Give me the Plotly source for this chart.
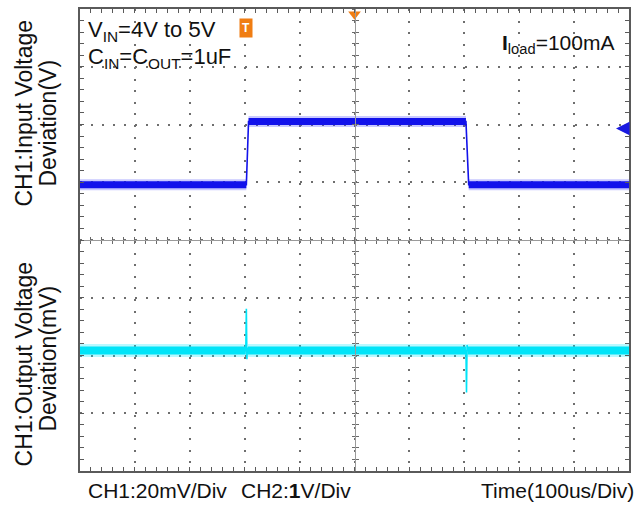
import plotly.graph_objects as go

# ---- scope settings -------------------------------------------------------
TIME_PER_DIV_US = 100
N_XDIV = 10
N_YDIV = 8

# CH2: input voltage step (V)
vin_t_us = [0, 303, 307, 703, 708, 1000]
vin_v = [4.0, 4.0, 5.0, 5.0, 4.0, 4.0]

# CH1: output voltage deviation (mV) with the line-transient spikes
vout_t_us = [0, 302, 303, 304, 305, 306, 703, 704, 705, 706, 1000]
vout_mv = [0, 0, 14.5, -3.0, 1.0, 0, 0, -14.5, 2.0, 0, 0]

# vertical windows of the two channels on the screen
ch2_range_v = [-0.53, 6.78]
ch1_range_mv = [-41.7, 118.3]

# ---- canvas geometry ------------------------------------------------------
W, H = 642, 506
PX_L, PX_R, PX_T, PX_B = 80, 629, 7, 471

def px_x(p):
    return (p - PX_L) / (PX_R - PX_L)

def px_y(p):
    return (PX_B - p) / (PX_B - PX_T)

FONT = "Liberation Sans, Arial, sans-serif"
FRAME = "#5a5a5a"
GRID = "#6e6e6e"

BLUE_CORE = "rgb(18,18,235)"
BLUE_FUZZ = "rgba(40,40,255,0.25)"
CYAN_CORE = "rgb(0,228,248)"
CYAN_FUZZ = "rgba(0,232,255,0.28)"


def flat_segments(xs, ys):
    """Split a trace into its flat (steady-state) stretches, separated by gaps."""
    sx, sy = [], []
    for i in range(len(xs) - 1):
        if ys[i] == ys[i + 1]:
            sx += [xs[i], xs[i + 1], None]
            sy += [ys[i], ys[i + 1], None]
    return sx, sy


fig = go.Figure()

# noise band + sharp trace for each channel
for xs, ys, yax, fuzz, core, fw, cw in [
    (vin_t_us, vin_v, "y2", BLUE_FUZZ, BLUE_CORE, 11, 7),
    (vout_t_us, vout_mv, "y3", CYAN_FUZZ, CYAN_CORE, 13, 8),
]:
    bx, by = flat_segments(xs, ys)
    fig.add_trace(go.Scatter(x=bx, y=by, mode="lines", yaxis=yax,
                             line=dict(color=fuzz, width=fw),
                             hoverinfo="skip", showlegend=False))
    fig.add_trace(go.Scatter(x=bx, y=by, mode="lines", yaxis=yax,
                             line=dict(color=core, width=cw),
                             hoverinfo="skip", showlegend=False))
    fig.add_trace(go.Scatter(x=xs, y=ys, mode="lines", yaxis=yax,
                             line=dict(color=core, width=1.6),
                             hoverinfo="skip", showlegend=False))

# trigger position marker at the top of the screen (centre of the time base)
fig.add_trace(go.Scatter(x=[N_XDIV * TIME_PER_DIV_US / 2], y=[N_YDIV / 2 - 0.09],
                         mode="markers", xaxis="x", yaxis="y",
                         marker=dict(symbol="triangle-down", size=11,
                                     color="#f07d12", line=dict(width=0)),
                         cliponaxis=False, hoverinfo="skip", showlegend=False))

# carriers for the centre cross-hair axes
for xa, ya in [("x2", "y"), ("x3", "y"), ("x", "y4"), ("x", "y5")]:
    fig.add_trace(go.Scatter(x=[None], y=[None], xaxis=xa, yaxis=ya,
                             mode="lines", hoverinfo="skip", showlegend=False))

x_full = [0, N_XDIV * TIME_PER_DIV_US]
y_full = [-N_YDIV / 2, N_YDIV / 2]

frame_axis = dict(showline=True, linecolor=FRAME, linewidth=1.5, mirror="allticks",
                  ticks="inside", ticklen=4, tickcolor=FRAME, tickwidth=1,
                  showticklabels=False, zeroline=False, fixedrange=True,
                  showgrid=True, gridcolor=GRID, gridwidth=1.6)

centre_axis = dict(showline=True, linecolor="#9a9a9a", linewidth=1,
                   tickcolor="#6a6a6a", tickwidth=1, ticklen=3,
                   showticklabels=False, showgrid=False, zeroline=False,
                   fixedrange=True, anchor="free", position=0.5)

fig.update_layout(
    width=W, height=H,
    margin=dict(l=PX_L, r=W - PX_R, t=PX_T, b=H - PX_B, pad=0),
    paper_bgcolor="white", plot_bgcolor="white",
    font=dict(family=FONT, size=21, color="#111111"),
    xaxis=dict(range=x_full, dtick=TIME_PER_DIV_US, tick0=0,
               griddash="2px,9.6px",
               minor=dict(dtick=TIME_PER_DIV_US / 5, ticks="inside", ticklen=3,
                          tickcolor=FRAME, showgrid=False),
               **frame_axis),
    yaxis=dict(range=y_full, dtick=1, tick0=0, griddash="2px,9px",
               minor=dict(dtick=0.2, ticks="inside", ticklen=3,
                          tickcolor=FRAME, showgrid=False),
               **frame_axis),
    xaxis2=dict(overlaying="x", range=x_full, dtick=TIME_PER_DIV_US / 5,
                ticks="outside", **centre_axis),
    xaxis3=dict(overlaying="x", range=x_full, dtick=TIME_PER_DIV_US / 5,
                ticks="inside", **centre_axis),
    yaxis2=dict(overlaying="y", range=ch2_range_v, visible=False, fixedrange=True),
    yaxis3=dict(overlaying="y", range=ch1_range_mv, visible=False, fixedrange=True),
    yaxis4=dict(overlaying="y", range=y_full, dtick=0.2,
                ticks="outside", **centre_axis),
    yaxis5=dict(overlaying="y", range=y_full, dtick=0.2,
                ticks="inside", **centre_axis),
)

ann = []

def text(s, x, y, xanchor="left", angle=0, size=21, **kw):
    ann.append(dict(text=s, x=px_x(x), y=px_y(y), xref="paper", yref="paper",
                    xanchor=xanchor, yanchor="middle", showarrow=False,
                    textangle=angle, font=dict(family=FONT, size=size, color="#111111"),
                    **kw))

# channel titles
text("CH1:Input Voltage", 24, 112, xanchor="center", angle=-90, size=23)
text("Deviation(V)", 48, 122, xanchor="center", angle=-90, size=23)
text("CH1:Output Voltage", 24, 364, xanchor="center", angle=-90, size=23)
text("Deviation(mV)", 48, 358, xanchor="center", angle=-90, size=23)

# test conditions
text("V<sub>IN</sub>=4V to 5V", 86, 29, size=22)
text("C<sub>IN</sub>=C<sub>OUT</sub>=1uF", 86, 56, size=22)
text("<b>I</b><sub>load</sub>=100mA", 616, 42, xanchor="right", size=21)

# scale read-outs
text("CH1:20mV/Div", 86, 491)
text("CH2:<b>1</b>V/Div", 239, 491)
text("Time(100us/Div)", 636, 491, xanchor="right")

# trigger tag at the input edge
ann.append(dict(text="<b>T</b>", x=vin_t_us[1], y=px_y(16), xref="x", yref="paper",
                showarrow=False, bgcolor="#f07d12", borderpad=2,
                font=dict(family=FONT, size=12, color="white")))

# CH2 reference marker on the right edge
ann.append(dict(text="", x=px_x(616), y=px_y(127), xref="paper", yref="paper",
                showarrow=True, arrowhead=2, arrowsize=0.9, arrowwidth=3,
                arrowcolor="#1a1ae0", ax=13, ay=0))

fig.update_layout(annotations=ann)

fig.write_html("out.html")
